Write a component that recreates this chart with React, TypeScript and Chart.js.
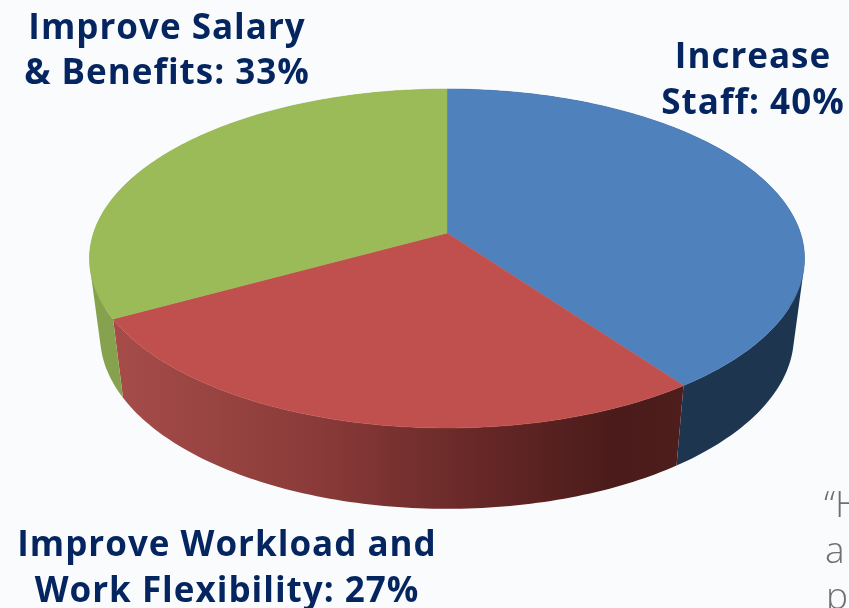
import React, { useEffect, useRef } from "react";
import { Chart, registerables } from "chart.js";

Chart.register(...registerables);

const categories = ["Increase Staff", "Improve Workload and Work Flexibility", "Improve Salary & Benefits"];
const shares = [40, 27, 33];
const topColors = ["#4f81bd", "#c0504d", "#9bbb59"];
const sideStops: [number, string][][] = [
  [[0, "#1e3550"], [1, "#1e3550"]],
  [[0, "#a54c49"], [0.35, "#8a3b39"], [0.6, "#6b2a29"], [0.88, "#4a1b1a"], [1, "#4e1e1d"]],
  [[0, "#86a14e"], [1, "#8aa751"]],
];
const mainLabels = [
  { text: "Improve Salary", x: 167, y: 39 },
  { text: "& Benefits: 33%", x: 167, y: 84 },
  { text: "Increase", x: 753, y: 68 },
  { text: "Staff: 40%", x: 753, y: 114 },
  { text: "Improve Workload and", x: 227, y: 556 },
  { text: "Work Flexibility: 27%", x: 227, y: 602 },
];
const clippedLines = [
  { text: "\u201cH", x: 824, y: 517 },
  { text: "a", x: 825, y: 563 },
  { text: "p", x: 826, y: 609 },
];

// Perspective of the tilted disc, relative to the radius Chart.js computes.
const TILT = 0.1504;
const TOP_X = 1.517;
const TOP_Y = 0.711;
const BOTTOM_X = 1.472;
const BOTTOM_Y = 0.725;
const BOTTOM_DROP = 77;

const piePerspective = {
  id: "piePerspective",
  beforeDatasetDraw(chart: any) {
    const ctx: CanvasRenderingContext2D = chart.ctx;
    const arcs = chart.getDatasetMeta(0).data;
    const project = (arc: any, a: number, bottom: boolean) => {
      const u = Math.cos(a);
      const v = Math.sin(a);
      const w = 1 - TILT * v;
      const r = arc.outerRadius;
      return bottom
        ? { x: arc.x + (r * BOTTOM_X * u) / w, y: arc.y + BOTTOM_DROP + (r * BOTTOM_Y * v) / w }
        : { x: arc.x + (r * TOP_X * u) / w, y: arc.y + (r * TOP_Y * v) / w };
    };
    const STEP = Math.PI / 180;
    ctx.save();
    // side walls: every slice is one path of consistently wound quads, so no seams show
    arcs.forEach((arc: any, i: number) => {
      const g = ctx.createLinearGradient(i === 1 ? 118 : 0, 0, i === 1 ? 684 : 849, 0);
      sideStops[i].forEach(([o, c]) => g.addColorStop(o, c));
      ctx.fillStyle = g;
      ctx.beginPath();
      for (let a = arc.startAngle; a < arc.endAngle - 1e-6; a += STEP) {
        const b = Math.min(a + STEP, arc.endAngle);
        const p = [project(arc, a, false), project(arc, b, false), project(arc, b, true), project(arc, a, true)];
        let area = 0;
        p.forEach((q, k) => {
          const n = p[(k + 1) % 4];
          area += q.x * n.y - n.x * q.y;
        });
        if (area < 0) p.reverse();
        p.forEach((q, k) => (k ? ctx.lineTo(q.x, q.y) : ctx.moveTo(q.x, q.y)));
        ctx.closePath();
      }
      ctx.fill("nonzero");
    });
    // top faces
    arcs.forEach((arc: any, i: number) => {
      ctx.beginPath();
      ctx.moveTo(arc.x, arc.y);
      for (let a = arc.startAngle; a < arc.endAngle; a += STEP) {
        const q = project(arc, a, false);
        ctx.lineTo(q.x, q.y);
      }
      const e = project(arc, arc.endAngle, false);
      ctx.lineTo(e.x, e.y);
      ctx.closePath();
      ctx.fillStyle = topColors[i];
      ctx.strokeStyle = topColors[i];
      ctx.lineWidth = 0.5;
      ctx.fill();
      ctx.stroke();
    });
    ctx.restore();
    return false;
  },
  afterDraw(chart: any) {
    const ctx: CanvasRenderingContext2D = chart.ctx;
    ctx.save();
    ctx.textBaseline = "alphabetic";
    ctx.textAlign = "center";
    ctx.fillStyle = "#04255f";
    ctx.font = '700 35px "Open Sans"';
    (ctx as any).letterSpacing = "1px";
    mainLabels.forEach((l) => ctx.fillText(l.text, l.x, l.y));
    ctx.textAlign = "left";
    ctx.fillStyle = "#6f6f6f";
    ctx.font = '300 37px "Open Sans"';
    (ctx as any).letterSpacing = "0px";
    clippedLines.forEach((l) => ctx.fillText(l.text, l.x, l.y));
    ctx.restore();
  },
};

export default function App() {
  const ref = useRef<HTMLCanvasElement>(null);
  useEffect(() => {
    document.body.style.margin = "0";
    document.body.style.overflow = "hidden";
    const chart = new Chart(ref.current!, {
      type: "pie",
      data: {
        labels: categories,
        datasets: [{ data: shares, backgroundColor: topColors, borderWidth: 0 }],
      },
      options: {
        animation: false,
        responsive: false,
        layout: { padding: { left: 45, right: 0, top: 0, bottom: 142 } },
        plugins: { legend: { display: false }, tooltip: { enabled: false } },
      },
      plugins: [piePerspective],
    } as any);
    return () => chart.destroy();
  }, []);
  return (
    <div style={{ width: 849, height: 608, background: "#f9fbfd" }}>
      <canvas ref={ref} width={849} height={608} style={{ display: "block" }} />
    </div>
  );
}
